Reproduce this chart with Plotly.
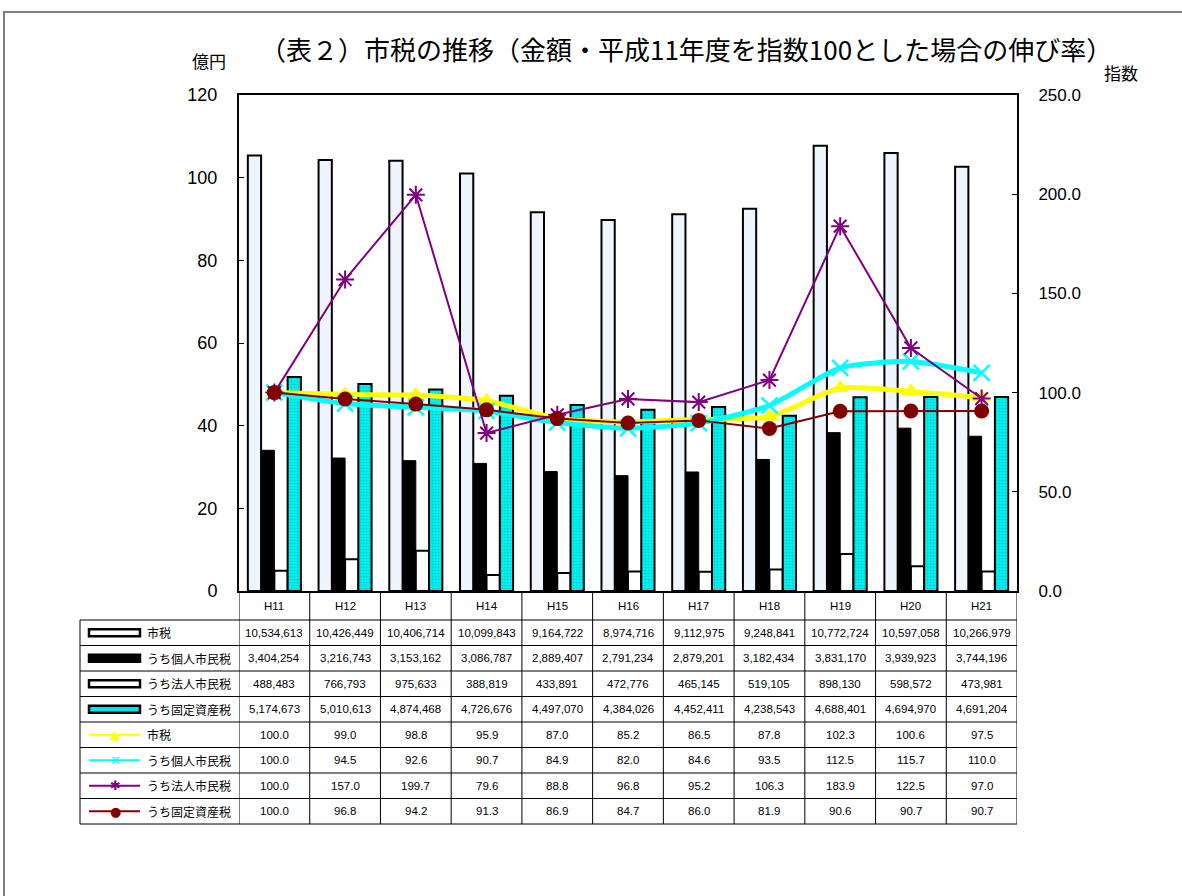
import plotly.graph_objects as go

categories = ["H11", "H12", "H13", "H14", "H15", "H16", "H17", "H18", "H19", "H20", "H21"]

# amounts (千円)
shizei_amt = [10534613, 10426449, 10406714, 10099843, 9164722, 8974716, 9112975, 9248841, 10772724, 10597058, 10266979]
kojin_amt = [3404254, 3216743, 3153162, 3086787, 2889407, 2791234, 2879201, 3182434, 3831170, 3939923, 3744196]
hojin_amt = [488483, 766793, 975633, 388819, 433891, 472776, 465145, 519105, 898130, 598572, 473981]
kotei_amt = [5174673, 5010613, 4874468, 4726676, 4497070, 4384026, 4452411, 4238543, 4688401, 4694970, 4691204]

# index (H11 = 100)
shizei_idx = [100.0, 99.0, 98.8, 95.9, 87.0, 85.2, 86.5, 87.8, 102.3, 100.6, 97.5]
kojin_idx = [100.0, 94.5, 92.6, 90.7, 84.9, 82.0, 84.6, 93.5, 112.5, 115.7, 110.0]
hojin_idx = [100.0, 157.0, 199.7, 79.6, 88.8, 96.8, 95.2, 106.3, 183.9, 122.5, 97.0]
kotei_idx = [100.0, 96.8, 94.2, 91.3, 86.9, 84.7, 86.0, 81.9, 90.6, 90.7, 90.7]

bar_names = ["市税", "うち個人市民税", "うち法人市民税", "うち固定資産税"]
line_names = ["市税", "うち個人市民税", "うち法人市民税", "うち固定資産税"]

left_ticks = [0, 20, 40, 60, 80, 100, 120]
right_ticks = [0, 50, 100, 150, 200, 250]

W, H = 1182, 896
L, R, T, B = 239, 1017, 95, 591
PW, PH = R - L, B - T

def px(x):
    return (x - L) / PW

def py(y):
    return (B - y) / PH

JP = "Noto Sans CJK JP"
NUM = "Liberation Sans, Arial, Noto Sans CJK JP"

fig = go.Figure()

amounts = [shizei_amt, kojin_amt, hojin_amt, kotei_amt]
to_oku = lambda arr: [v / 100000 for v in arr]

bar_styles = [
    dict(color="#eef5ff", line=dict(color="black", width=2)),
    dict(color="black", line=dict(color="black", width=1)),
    dict(color="white", line=dict(color="black", width=2)),
    dict(color="#00e6e6", line=dict(color="black", width=2),
         pattern=dict(shape=".", fgcolor="#0a9a9a", bgcolor="#00f0f0", size=3, solidity=0.25)),
]
for name, arr, st in zip(bar_names, amounts, bar_styles):
    fig.add_trace(go.Bar(x=categories, y=to_oku(arr), name=name, marker=st,
                         showlegend=False, yaxis="y"))

idxs = [shizei_idx, kojin_idx, hojin_idx, kotei_idx]
line_styles = [
    dict(line=dict(color="#ffff00", width=5, shape="spline", smoothing=0.6),
         marker=dict(symbol="triangle-up", size=16, color="#ffff00")),
    dict(line=dict(color="#00ffff", width=5, shape="spline", smoothing=0.6),
         marker=dict(symbol="x-thin", size=16, line=dict(color="#00ffff", width=2.5))),
    dict(line=dict(color="#800080", width=2),
         marker=dict(symbol="asterisk", size=15, line=dict(color="#800080", width=2))),
    dict(line=dict(color="#800000", width=2),
         marker=dict(symbol="circle", size=15, color="#800000")),
]
for name, arr, st in zip(line_names, idxs, line_styles):
    fig.add_trace(go.Scatter(x=categories, y=arr, name=name, mode="lines+markers",
                             yaxis="y2", showlegend=False, **st))

shapes = []
annotations = []

def ann(x, y, text, font, xref="paper", xanchor="center"):
    annotations.append(dict(x=x, y=y, xref=xref, yref="paper", text=text, showarrow=False,
                            xanchor=xanchor, yanchor="middle", font=font))

# outer gray frame
shapes.append(dict(type="rect", xref="paper", yref="paper",
                   x0=px(4), x1=px(1200), y0=py(910), y1=py(12),
                   line=dict(color="#808080", width=2), fillcolor="rgba(0,0,0,0)", layer="below"))

# table geometry
header_top, header_bot = 591, 620
row_h = (824 - 620) / 8
rows_y = [620 + i * row_h for i in range(9)]
tbl_left = 80
n = len(categories)

for i in range(n + 1):
    shapes.append(dict(type="line", xref="x", yref="paper", x0=i - 0.5, x1=i - 0.5,
                       y0=py(header_top), y1=py(rows_y[-1]), line=dict(color="black", width=1)))
shapes.append(dict(type="line", xref="paper", yref="paper", x0=px(tbl_left), x1=px(tbl_left),
                   y0=py(rows_y[0]), y1=py(rows_y[-1]), line=dict(color="black", width=1)))
for yv in rows_y:
    shapes.append(dict(type="line", xref="paper", yref="paper", x0=px(tbl_left), x1=1,
                       y0=py(yv), y1=py(yv), line=dict(color="black", width=1)))

numfont = dict(family=NUM, size=11.5, color="black")
for c in categories:
    ann(c, py((header_top + header_bot) / 2), c, numfont, xref="x")

amt_rows = [[f"{v:,}" for v in a] for a in amounts]
idx_rows = [[f"{v:.1f}" for v in a] for a in idxs]
all_rows = amt_rows + idx_rows
for r, row in enumerate(all_rows):
    yc = py((rows_y[r] + rows_y[r + 1]) / 2)
    for i, txt in enumerate(row):
        ann(categories[i], yc, txt, numfont, xref="x")

# label column with legend symbols
labels = bar_names + line_names
sym_x0, sym_x1 = 89, 140
bar_sym = [("white", "black"), ("black", "black"), ("white", "black"), ("#00e6e6", "black")]
for r in range(8):
    yc_px = (rows_y[r] + rows_y[r + 1]) / 2
    ann(px(145), py(yc_px), labels[r], dict(family=JP, size=12, color="black"), xanchor="left")
    if r < 4:
        fc, lc = bar_sym[r]
        shapes.append(dict(type="rect", xref="paper", yref="paper",
                           x0=px(sym_x0), x1=px(sym_x1), y0=py(yc_px + 3.5), y1=py(yc_px - 3.5),
                           fillcolor=fc, line=dict(color=lc, width=2.5)))
    else:
        st = line_styles[r - 4]
        lc = st["line"]["color"]
        shapes.append(dict(type="line", xref="paper", yref="paper",
                           x0=px(sym_x0), x1=px(sym_x1), y0=py(yc_px), y1=py(yc_px),
                           line=dict(color=lc, width=2)))
        sym = ["▲", "✕", "✱", "●"][r - 4]
        ann(px(115), py(yc_px), sym, dict(family="DejaVu Sans", size=13, color=lc))

# axis titles
ann(px(209), py(60), "億円", dict(family=JP, size=17, color="black"))
ann(px(1121), py(73), "指数", dict(family=JP, size=17, color="black"))
# title
ann(px(686), py(48), "（表２）市税の推移（金額・平成11年度を指数100とした場合の伸び率）",
    dict(family=JP, size=26, color="black"))

fig.update_layout(
    width=W, height=H,
    margin=dict(l=L, r=W - R, t=T, b=H - B, pad=0),
    paper_bgcolor="white", plot_bgcolor="white",
    barmode="group", bargap=0.25, bargroupgap=0,
    shapes=shapes, annotations=annotations,
    xaxis=dict(type="category", range=[-0.5, n - 0.5], showticklabels=False, ticks="",
               showgrid=False, showline=True, linecolor="black", linewidth=2, mirror=True,
               zeroline=False),
    yaxis=dict(range=[0, 120], tickvals=left_ticks, ticktext=[str(v) for v in left_ticks],
               ticks="inside", ticklen=5, tickcolor="black", showgrid=False, zeroline=False,
               showline=True, linecolor="black", linewidth=2, mirror=True,
               ticklabelstandoff=16,
               tickfont=dict(family=NUM, size=18, color="black")),
    yaxis2=dict(range=[0, 250], overlaying="y", side="right", tickvals=right_ticks,
                ticktext=[f"{v:.1f}" for v in right_ticks],
                ticks="inside", ticklen=5, tickcolor="black", showgrid=False, zeroline=False,
                showline=True, linecolor="black", linewidth=2, ticklabelstandoff=16,
                tickfont=dict(family=NUM, size=17, color="black")),
)

fig.write_html("out.html")
